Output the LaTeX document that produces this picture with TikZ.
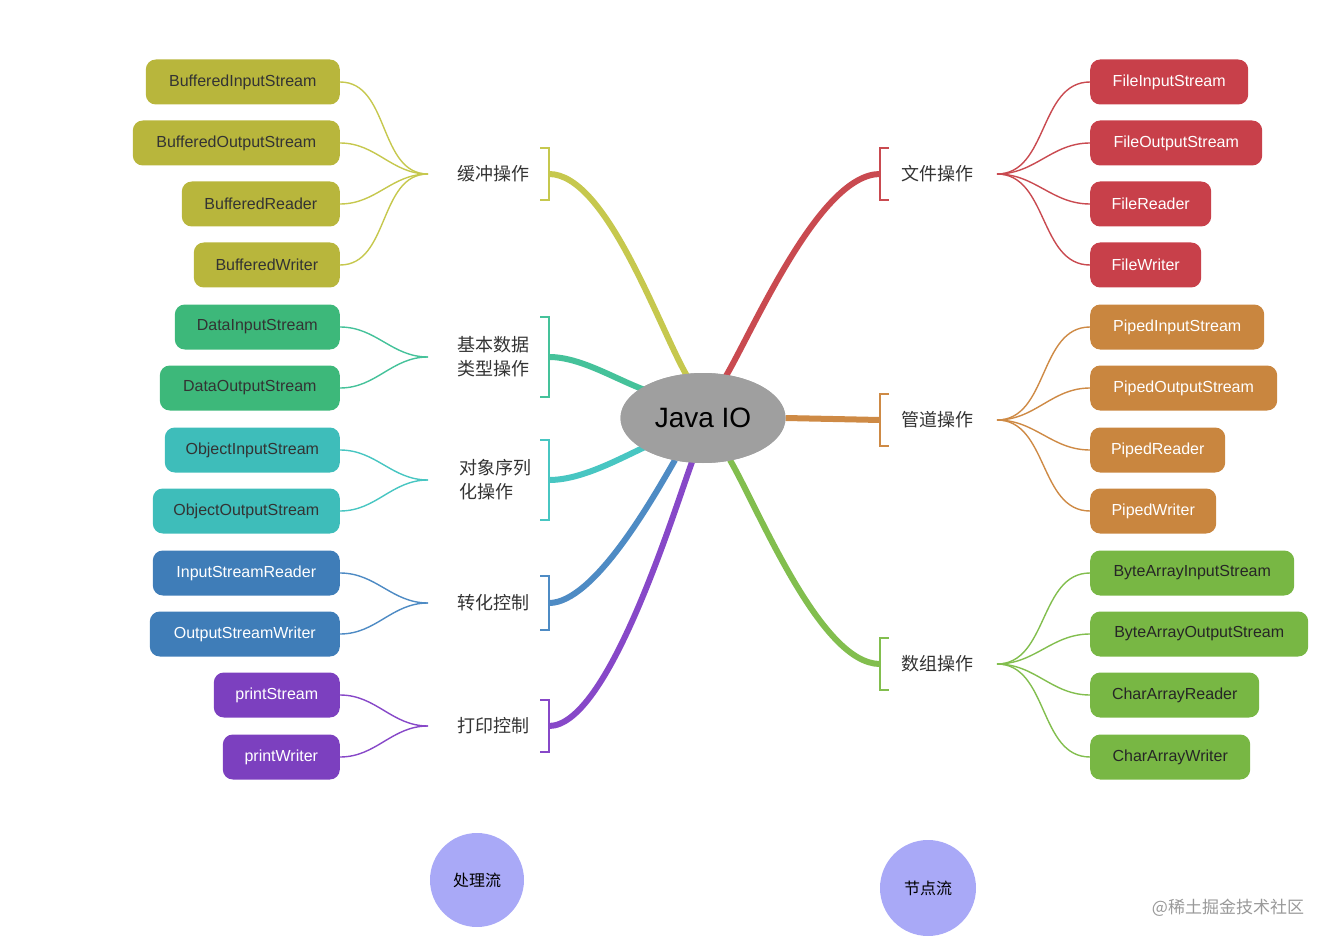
\documentclass[tikz,border=0pt]{standalone}
\usepackage{fontspec}
\usetikzlibrary{shapes.geometric}
\setmainfont{Liberation Sans}
\newfontfamily\cjk{Noto Sans CJK SC}
\begin{document}
\begin{tikzpicture}[x=1pt,y=-1pt,
 leaf/.style={rounded corners=10pt,minimum height=45pt,inner sep=0pt,font=\fontsize{16}{18}\selectfont,anchor=east},
 cat/.style={font=\cjk\fontsize{18}{24}\selectfont,align=left,text=black!80},
 br/.style={line width=1.3pt},
 thin/.style={line width=1.4pt},
 trunk/.style={line width=6pt},
]
\definecolor{cbuf}{HTML}{B8B63C}\definecolor{lbuf}{HTML}{C6C84E}
\definecolor{cdat}{HTML}{3DB87A}\definecolor{ldat}{HTML}{45C29A}
\definecolor{cobj}{HTML}{3EBDBA}\definecolor{lobj}{HTML}{48C6C2}
\definecolor{ccnv}{HTML}{3F7DB8}\definecolor{lcnv}{HTML}{4E8BC4}
\definecolor{cprt}{HTML}{7C40BF}\definecolor{lprt}{HTML}{8748C8}
\definecolor{cfil}{HTML}{C8404A}\definecolor{lfil}{HTML}{C94A50}
\definecolor{cpip}{HTML}{C9863F}\definecolor{lpip}{HTML}{CE8A45}
\definecolor{carr}{HTML}{78B744}\definecolor{larr}{HTML}{82BE4E}
\definecolor{circ}{HTML}{A9A9F7}
\path[use as bounding box] (0,0) rectangle (1334,944);
% center
\node[ellipse,fill=gray!75!white,minimum width=165pt,minimum height=90pt,font=\fontsize{28}{30}\selectfont] (c) at (703,418) {Java IO};
% left leaves
\foreach \t/\y/\l/\cl/\tc/\n in {
 BufferedInputStream/82/146/cbuf/black!80/a1, BufferedOutputStream/143/133/cbuf/black!80/a2,
 BufferedReader/204/182/cbuf/black!80/a3, BufferedWriter/265/194/cbuf/black!80/a4,
 DataInputStream/327/175/cdat/black!80/b1, DataOutputStream/388/160/cdat/black!80/b2,
 ObjectInputStream/450/165/cobj/black!80/d1, ObjectOutputStream/511/153/cobj/black!80/d2,
 InputStreamReader/573/153/ccnv/white/e1, OutputStreamWriter/634/150/ccnv/white/e2,
 printStream/695/214/cprt/white/f1, printWriter/757/223/cprt/white/f2}
 {\node[leaf,fill=\cl,text=\tc,minimum width={340-\l}] (\n) at (340,\y) {\t};}
% right leaves
\foreach \t/\y/\r/\cl/\tc/\n in {
 FileInputStream/82/1248/cfil/white/g1, FileOutputStream/143/1262/cfil/white/g2,
 FileReader/204/1211/cfil/white/g3, FileWriter/265/1201/cfil/white/g4,
 PipedInputStream/327/1264/cpip/white/h1, PipedOutputStream/388/1277/cpip/white/h2,
 PipedReader/450/1225/cpip/white/h3, PipedWriter/511/1216/cpip/white/h4,
 ByteArrayInputStream/573/1294/carr/black!85/k1, ByteArrayOutputStream/634/1308/carr/black!85/k2,
 CharArrayReader/695/1259/carr/black!85/k3, CharArrayWriter/757/1250/carr/black!85/k4}
 {\node[leaf,anchor=west,fill=\cl,text=\tc,minimum width={\r-1090}] (\n) at (1090,\y) {\t};}
% categories
\node[cat] (A) at (493,174) {缓冲操作};
\node[cat] (B) at (493,357) {基本数据\\类型操作};
\node[cat] (D) at (495,480) {对象序列\\化操作};
\node[cat] (E) at (493,603) {转化控制};
\node[cat] (F) at (493,726) {打印控制};
\node[cat] (G) at (937,174) {文件操作};
\node[cat] (H) at (937,420) {管道操作};
\node[cat] (K) at (937,664) {数组操作};
% brackets & fan points
\foreach \n/\y/\h/\cl in {A/174/26/lbuf,B/357/40/ldat,D/480/40/lobj,E/603/27/lcnv,F/726/26/lprt}{
 \draw[br,\cl] (540,\y-\h) -- (549,\y-\h) -- (549,\y+\h) -- (540,\y+\h);
 \coordinate (\n o) at (549,\y);
 \coordinate (\n f) at (428,\y);}
\foreach \n/\y/\h/\cl in {G/174/26/lfil,H/420/26/lpip,K/664/26/larr}{
 \draw[br,\cl] (889,\y-\h) -- (880,\y-\h) -- (880,\y+\h) -- (889,\y+\h);
 \coordinate (\n o) at (880,\y);
 \coordinate (\n f) at (997,\y);}
% fans
\foreach \f/\cl/\ls in {Af/lbuf/{a1,a2,a3,a4},Bf/ldat/{b1,b2},Df/lobj/{d1,d2},Ef/lcnv/{e1,e2},Ff/lprt/{f1,f2}}
 \foreach \m in \ls \draw[thin,\cl] (\m.east) to[out=0,in=180] (\f);
\foreach \f/\cl/\ls in {Gf/lfil/{g1,g2,g3,g4},Hf/lpip/{h1,h2,h3,h4},Kf/larr/{k1,k2,k3,k4}}
 \foreach \m in \ls \draw[thin,\cl] (\m.west) to[out=180,in=0] (\f);
% trunks
\draw[trunk,lbuf] (Ao) to[out=0,in=120,looseness=0.6] (687,376);
\draw[trunk,ldat] (Bo) to[out=0,in=160,looseness=0.8] (645,390);
\draw[trunk,lobj] (Do) to[out=0,in=205,looseness=0.8] (645,447);
\draw[trunk,lcnv] (Eo) to[out=0,in=240,looseness=0.6] (675,460);
\draw[trunk,lprt] (Fo) to[out=0,in=250,looseness=0.5] (692,462);
\draw[trunk,lfil] (Go) to[out=180,in=60,looseness=0.6] (726,376);
\draw[trunk,lpip] (Ho) -- (c.east);
\draw[trunk,larr] (Ko) to[out=180,in=300,looseness=0.6] (730,460);
\node[ellipse,fill=gray!75!white,minimum width=165pt,minimum height=90pt,font=\fontsize{28}{30}\selectfont] at (703,418) {Java IO};
% bottom
\node[circle,fill=circ,minimum size=94pt,font=\cjk\fontsize{16}{18}\selectfont] (p) at (477,880) {处理流};
\node[circle,fill=circ,minimum size=96pt,font=\cjk\fontsize{16}{18}\selectfont] (q) at (928,888) {节点流};
\node[font=\cjk\fontsize{17}{18}\selectfont,text=gray!80] (w) at (1228,908) {@稀土掘金技术社区};
\end{tikzpicture}
\end{document}
